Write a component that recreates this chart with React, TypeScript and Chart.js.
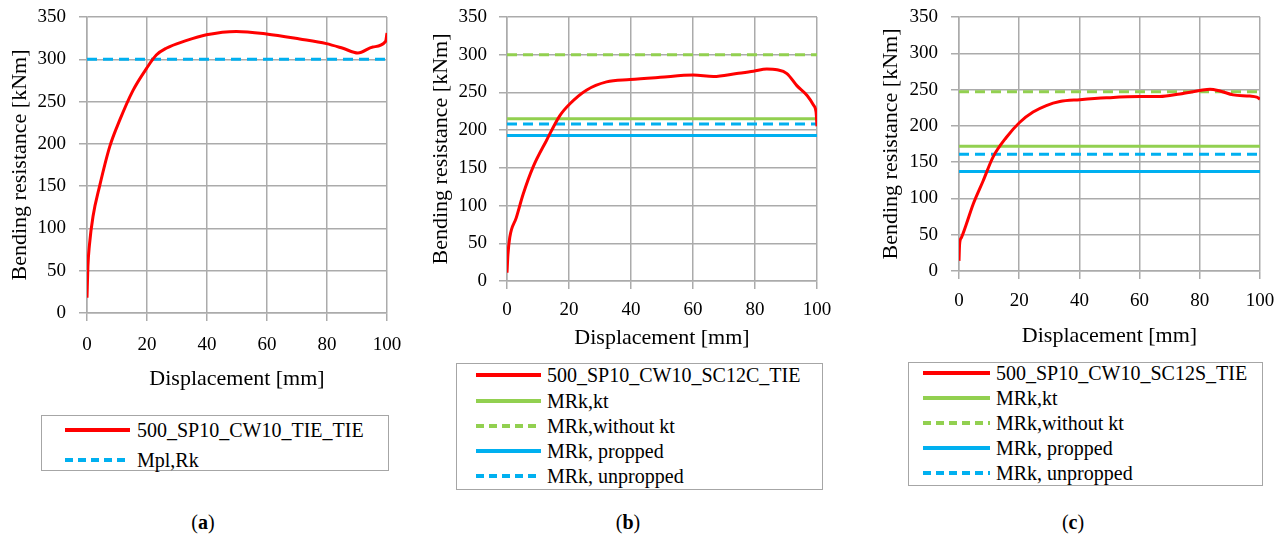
import React, { useEffect, useRef } from "react";
import { Chart, registerables } from "chart.js";
Chart.register(...registerables);

// ---------- data ----------
const xTickValues = [0, 20, 40, 60, 80, 100];
const yTickValues = [0, 50, 100, 150, 200, 250, 300, 350];

// (a)
const dispA = [0, 0.3, 0.8, 2, 4.2, 7.6, 10.9, 15.3, 19.8, 23.1, 26.4, 33, 39.8, 49.8, 59.8, 70.9, 79.8, 85.3, 90.3, 95.3, 99.5, 100];
const momA = [18, 55, 80, 114, 150, 197, 228, 263, 289, 305, 313, 322, 329, 333, 330, 324, 318.5, 313, 307.5, 314.6, 321, 331];
const mplRkA = 300;

// (b)
const dispB = [0, 0.3, 0.9, 3, 5.2, 8.4, 12.7, 17, 20.3, 25.6, 32.1, 39.7, 49.4, 60.1, 66.6, 74.1, 79.5, 83.8, 87.1, 90.3, 93.5, 96.8, 98.9, 99.7, 100];
const momB = [11, 35, 58, 84, 115, 151, 186, 219, 235, 253, 264, 267, 270, 273, 271, 275, 278, 281, 280, 275, 259, 246, 233, 224, 205];
const levelsB = { kt: 215, withoutKt: 300, propped: 193, unpropped: 208 };

// (c)
const dispC = [0, 0.2, 0.8, 2.4, 4.7, 8, 11.3, 15.7, 20.2, 24.6, 29, 33.5, 40.1, 49, 60.1, 66.7, 73.4, 80, 83.4, 86.7, 91.1, 96.6, 98.9, 100];
const momC = [14, 37, 46, 64, 92, 124, 157, 184, 205, 219, 228, 233.5, 236, 238.6, 240.4, 240.4, 244, 248.7, 250.6, 248, 242.7, 241, 239.5, 237];
const levelsC = { kt: 172, withoutKt: 247, propped: 137, unpropped: 161 };

const labelsA = ["500_SP10_CW10_TIE_TIE", "Mpl,Rk"];
const labelsB = ["500_SP10_CW10_SC12C_TIE", "MRk,kt", "MRk,without kt", "MRk, propped", "MRk, unpropped"];
const labelsC = ["500_SP10_CW10_SC12S_TIE", "MRk,kt", "MRk,without kt", "MRk, propped", "MRk, unpropped"];

// ---------- styles ----------
const RED = "#FF0000";
const GREEN = "#92D050";
const BLUE = "#00B0F0";
const GRID = "#ABABAB";
const FONT = "'Liberation Serif', 'Times New Roman', serif";
const DASH = [10, 6];

type Series = { label: string; xs: number[]; ys: number[]; color: string; dashed: boolean };

const curve = (label: string, xs: number[], ys: number[]): Series => ({ label, xs, ys, color: RED, dashed: false });
const level = (label: string, v: number, color: string, dashed: boolean): Series => ({ label, xs: [0, 100], ys: [v, v], color, dashed });

const seriesA: Series[] = [curve(labelsA[0], dispA, momA), level(labelsA[1], mplRkA, BLUE, true)];
const seriesB: Series[] = [
  curve(labelsB[0], dispB, momB),
  level(labelsB[1], levelsB.kt, GREEN, false),
  level(labelsB[2], levelsB.withoutKt, GREEN, true),
  level(labelsB[3], levelsB.propped, BLUE, false),
  level(labelsB[4], levelsB.unpropped, BLUE, true),
];
const seriesC: Series[] = [
  curve(labelsC[0], dispC, momC),
  level(labelsC[1], levelsC.kt, GREEN, false),
  level(labelsC[2], levelsC.withoutKt, GREEN, true),
  level(labelsC[3], levelsC.propped, BLUE, false),
  level(labelsC[4], levelsC.unpropped, BLUE, true),
];

type Layout = {
  left: number; width: number; height: number;
  padTop: number; padRight: number;
  yW: number; xH: number;
  xTickPad: number; yTickPad: number;
  xTitlePadBottom: number; yTitlePadTop: number;
};

function PanelChart({ series, layout }: { series: Series[]; layout: Layout }) {
  const ref = useRef<HTMLCanvasElement>(null);
  useEffect(() => {
    const chart = new Chart(ref.current as HTMLCanvasElement, {
      type: "line",
      data: {
        datasets: series.map((s) => ({
          label: s.label,
          data: s.xs.map((x, i) => ({ x, y: s.ys[i] })),
          borderColor: s.color,
          backgroundColor: s.color,
          borderWidth: 3,
          borderDash: s.dashed ? DASH : [],
          pointRadius: 0,
          fill: false,
          cubicInterpolationMode: "monotone" as const,
        })),
      },
      options: {
        animation: false,
        responsive: false,
        maintainAspectRatio: false,
        layout: { padding: { left: 0, top: layout.padTop, right: layout.padRight, bottom: 0 } },
        plugins: { legend: { display: false }, tooltip: { enabled: false } },
        scales: {
          x: {
            type: "linear",
            min: 0,
            max: 100,
            afterBuildTicks: (s: any) => { s.ticks = xTickValues.map((v) => ({ value: v })); },
            afterFit: (s: any) => { s.height = layout.xH; s.paddingLeft = 0; s.paddingRight = 0; },
            grid: { color: GRID, lineWidth: 1.5, tickLength: 8 },
            border: { color: GRID, width: 1.5 },
            ticks: { font: { family: FONT, size: 19 }, color: "#000", padding: layout.xTickPad, maxRotation: 0, autoSkip: false },
            title: { display: true, text: "Displacement [mm]", font: { family: FONT, size: 22 }, color: "#000", padding: { top: 0, bottom: layout.xTitlePadBottom } },
          },
          y: {
            type: "linear",
            min: 0,
            max: 350,
            afterBuildTicks: (s: any) => { s.ticks = yTickValues.map((v) => ({ value: v })); },
            afterFit: (s: any) => { s.width = layout.yW; s.paddingTop = 0; s.paddingBottom = 0; },
            grid: { color: GRID, lineWidth: 1.5, tickLength: 8 },
            border: { color: GRID, width: 1.5 },
            ticks: { font: { family: FONT, size: 19 }, color: "#000", padding: layout.yTickPad },
            title: { display: true, text: "Bending resistance [kNm]", font: { family: FONT, size: 22 }, color: "#000", padding: { top: layout.yTitlePadTop, bottom: 0 } },
          },
        },
      },
    } as any);
    return () => chart.destroy();
  }, []);
  return (
    <canvas
      ref={ref}
      width={layout.width}
      height={layout.height}
      style={{ position: "absolute", left: layout.left, top: 0, width: layout.width, height: layout.height }}
    />
  );
}

type LegendLayout = { left: number; top: number; width: number; height: number; sampleX: number; sampleW: number; textX: number; rows: number[] };

function LineSample({ s, x, y, w }: { s: Series; x: number; y: number; w: number }) {
  return (
    <svg width={w} height={8} style={{ position: "absolute", left: x, top: y - 4 }}>
      <line x1={0} y1={4} x2={w} y2={4} stroke={s.color} strokeWidth={4} strokeDasharray={s.dashed ? "8 5" : undefined} />
    </svg>
  );
}

function Legend({ series, lay }: { series: Series[]; lay: LegendLayout }) {
  return (
    <>
      <div style={{ position: "absolute", left: lay.left, top: lay.top, width: lay.width, height: lay.height, border: "1.5px solid #A6A6A6", boxSizing: "border-box" }} />
      {series.map((s, i) => (
        <React.Fragment key={i}>
          <LineSample s={s} x={lay.sampleX} y={lay.rows[i]} w={lay.sampleW} />
          <div style={{ position: "absolute", left: lay.textX, top: lay.rows[i] - 12, height: 24, lineHeight: "24px", fontFamily: FONT, fontSize: 20, color: "#000", whiteSpace: "nowrap" }}>{s.label}</div>
        </React.Fragment>
      ))}
    </>
  );
}

function Caption({ cx, letter }: { cx: number; letter: string }) {
  return (
    <div style={{ position: "absolute", left: cx - 50, width: 100, top: 510, height: 24, lineHeight: "24px", textAlign: "center", fontFamily: FONT, fontSize: 20, color: "#000" }}>
      (<b>{letter}</b>)
    </div>
  );
}

const layoutA: Layout = { left: 0, width: 420, height: 395, padTop: 17, padRight: 33, yW: 87, xH: 82, xTickPad: 13, yTickPad: 13, xTitlePadBottom: 3, yTitlePadTop: 7 };
const layoutB: Layout = { left: 420, width: 420, height: 360, padTop: 17, padRight: 23, yW: 87, xH: 79, xTickPad: 10, yTickPad: 12, xTitlePadBottom: 9, yTitlePadTop: 8 };
const layoutC: Layout = { left: 860, width: 423, height: 360, padTop: 17, padRight: 23, yW: 99, xH: 89, xTickPad: 11, yTickPad: 13, xTitlePadBottom: 11, yTitlePadTop: 18 };

const legA: LegendLayout = { left: 41, top: 415, width: 348, height: 56, sampleX: 65, sampleW: 65, textX: 137, rows: [430, 460] };
const legB: LegendLayout = { left: 456, top: 363, width: 367, height: 127, sampleX: 476, sampleW: 65, textX: 547, rows: [375, 401, 426, 451, 476] };
const legC: LegendLayout = { left: 908, top: 362, width: 355, height: 124, sampleX: 923, sampleW: 67, textX: 996, rows: [373, 398, 423, 448, 473] };

export default function App() {
  return (
    <div style={{ position: "absolute", left: 0, top: 0, width: 1283, height: 536, background: "#fff", overflow: "hidden" }}>
      <PanelChart series={seriesA} layout={layoutA} />
      <PanelChart series={seriesB} layout={layoutB} />
      <PanelChart series={seriesC} layout={layoutC} />
      <Legend series={seriesA} lay={legA} />
      <Legend series={seriesB} lay={legB} />
      <Legend series={seriesC} lay={legC} />
      <Caption cx={203} letter="a" />
      <Caption cx={628} letter="b" />
      <Caption cx={1073} letter="c" />
    </div>
  );
}
